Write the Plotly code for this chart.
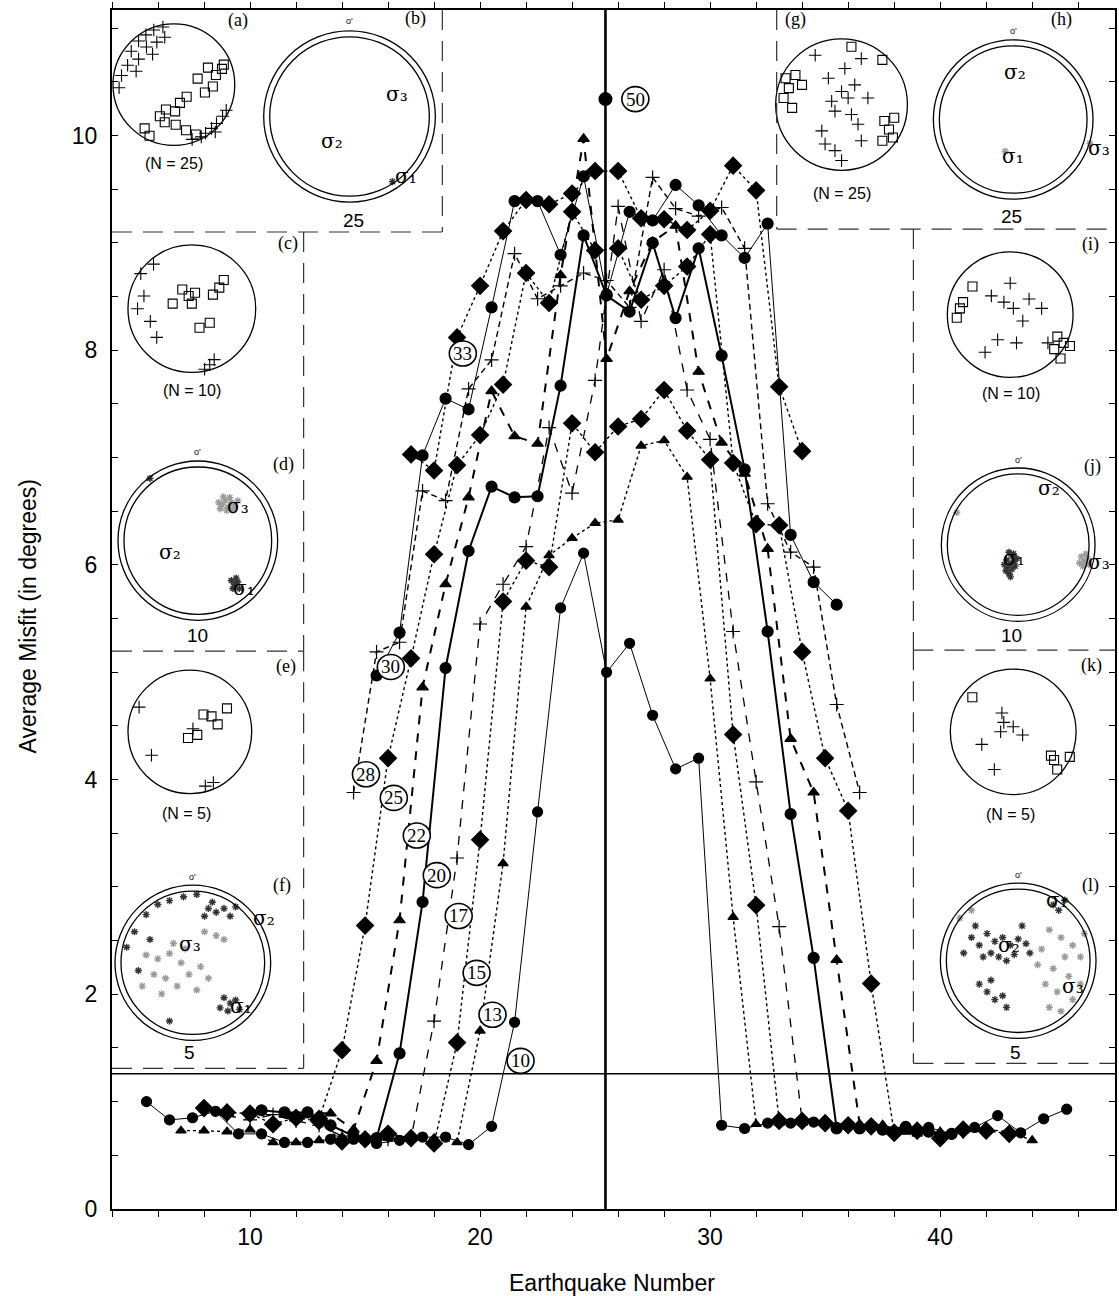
import plotly.graph_objects as go

# ---------------- main chart data (window centres, average misfit) ----------------
x_n10 = [5.5, 6.5, 7.5, 8.5, 9.5, 10.5, 11.5, 12.5, 13.5, 14.5, 15.5, 16.5, 17.5, 18.5, 19.5, 20.5,
         21.5, 22.5, 23.5, 24.5, 25.5, 26.5, 27.5, 28.5, 29.5, 30.5, 31.5, 32.5, 33.5, 34.5, 35.5,
         36.5, 37.5, 38.5, 39.5, 40.5, 41.5, 42.5, 43.5, 44.5, 45.5]
y_n10 = [1.00, 0.83, 0.85, 0.91, 0.70, 0.70, 0.62, 0.62, 0.65, 0.65, 0.61, 0.64, 0.67, 0.67, 0.60, 0.77,
         1.74, 3.70, 5.60, 6.11, 5.00, 5.27, 4.60, 4.10, 4.20, 0.78, 0.75, 0.80, 0.80, 0.81, 0.76,
         0.75, 0.74, 0.77, 0.76, 0.70, 0.76, 0.87, 0.71, 0.84, 0.93]

x_n13 = [7, 8, 9, 10, 11, 12, 13, 14, 15, 16, 17, 18, 19, 20, 21, 22, 23, 24, 25, 26, 27, 28, 29,
         30, 31, 32, 33, 34, 35, 36, 37, 38, 39, 40, 41, 42, 43, 44]
y_n13 = [0.73, 0.73, 0.72, 0.74, 0.62, 0.62, 0.64, 0.63, 0.66, 0.66, 0.65, 0.66, 0.62, 1.66, 3.22,
         5.61, 6.09, 6.25, 6.39, 6.42, 7.11, 7.16, 6.82, 4.94, 2.72, 0.79, 0.80, 0.80, 0.79, 0.79,
         0.78, 0.74, 0.70, 0.72, 0.73, 0.74, 0.72, 0.64]

x_n15 = [8, 9, 10, 11, 12, 13, 14, 15, 16, 17, 18, 19, 20, 21, 22, 23, 24, 25, 26, 27, 28, 29, 30,
         31, 32, 33, 34, 35, 36, 37, 38, 39, 40, 41, 42, 43]
y_n15 = [0.94, 0.90, 0.89, 0.79, 0.85, 0.82, 0.63, 0.65, 0.70, 0.66, 0.61, 1.55, 3.44, 5.66, 6.04,
         5.98, 7.32, 7.05, 7.29, 7.36, 7.63, 7.25, 6.98, 4.42, 2.83, 0.82, 0.82, 0.80, 0.78, 0.77,
         0.71, 0.73, 0.66, 0.74, 0.73, 0.70]

x_n17 = [9, 10, 11, 12, 13, 14, 15, 16, 17, 18, 19, 20, 21, 22, 23, 24, 25, 26, 27, 28, 29, 30, 31,
         32, 33, 34, 35, 36, 37, 38, 39, 40, 41, 42]
y_n17 = [0.87, 0.83, 0.88, 0.82, 0.78, 0.68, 0.66, 0.65, 0.66, 1.75, 3.27, 5.45, 5.82, 6.17, 7.28,
         6.67, 7.72, 9.34, 8.27, 8.75, 7.63, 7.17, 5.38, 3.98, 2.63, 0.82, 0.80, 0.78, 0.76, 0.72,
         0.72, 0.70, 0.72, 0.73]

x_n20 = [10.5, 11.5, 12.5, 13.5, 14.5, 15.5, 16.5, 17.5, 18.5, 19.5, 20.5, 21.5, 22.5, 23.5, 24.5,
         25.5, 26.5, 27.5, 28.5, 29.5, 30.5, 31.5, 32.5, 33.5, 34.5, 35.5, 36.5, 37.5, 38.5, 39.5, 40.5]
y_n20 = [0.92, 0.90, 0.90, 0.78, 0.68, 0.66, 1.45, 2.86, 5.04, 6.13, 6.73, 6.63, 6.64, 7.67, 9.07,
         8.51, 8.36, 9.00, 8.30, 8.95, 7.95, 6.89, 5.38, 3.68, 2.34, 0.75, 0.75, 0.74, 0.76, 0.72, 0.70]

x_n22 = [11.5, 12.5, 13.5, 14.5, 15.5, 16.5, 17.5, 18.5, 19.5, 20.5, 21.5, 22.5, 23.5, 24.5, 25.5,
         26.5, 27.5, 28.5, 29.5, 30.5, 31.5, 32.5, 33.5, 34.5, 35.5, 36.5, 37.5, 38.5, 39.5]
y_n22 = [0.88, 0.90, 0.89, 0.74, 1.38, 2.69, 4.86, 5.82, 6.63, 7.62, 7.20, 7.13, 8.70, 9.97, 7.92,
         8.55, 9.01, 9.16, 7.80, 7.14, 6.85, 6.15, 4.38, 3.88, 2.32, 0.79, 0.78, 0.72, 0.72]

x_n25 = [13, 14, 15, 16, 17, 18, 19, 20, 21, 22, 23, 24, 25, 26, 27, 28, 29, 30, 31, 32, 33, 34, 35,
         36, 37, 38]
y_n25 = [0.84, 1.48, 2.64, 4.20, 5.13, 6.10, 6.93, 7.21, 7.68, 8.72, 8.44, 9.29, 8.93, 8.95, 8.47,
         8.60, 8.78, 9.08, 6.95, 6.38, 6.37, 5.19, 4.20, 3.71, 2.10, 0.71]

x_n28 = [14.5, 15.5, 16.5, 17.5, 18.5, 19.5, 20.5, 21.5, 22.5, 23.5, 24.5, 25.5, 26.5, 27.5, 28.5,
         29.5, 30.5, 31.5, 32.5, 33.5, 34.5, 35.5, 36.5]
y_n28 = [3.88, 5.19, 5.28, 6.69, 6.60, 7.64, 7.91, 8.90, 8.48, 8.60, 8.72, 8.65, 8.40, 9.61, 9.32,
         9.25, 9.33, 8.95, 6.57, 6.12, 5.98, 4.70, 3.88]

x_n30 = [15.5, 16.5, 17.5, 18.5, 19.5, 20.5, 21.5, 22.5, 23.5, 24.5, 25.5, 26.5, 27.5, 28.5, 29.5,
         30.5, 31.5, 32.5, 33.5, 34.5, 35.5]
y_n30 = [4.97, 5.37, 7.02, 7.55, 7.45, 8.40, 9.39, 9.39, 8.89, 9.62, 8.52, 9.29, 9.21, 9.54, 9.35,
         9.07, 8.86, 9.18, 6.28, 5.84, 5.63]

x_n33 = [17, 18, 19, 20, 21, 22, 23, 24, 25, 26, 27, 28, 29, 30, 31, 32, 33, 34]
y_n33 = [7.03, 6.88, 8.12, 8.60, 9.11, 9.40, 9.36, 9.46, 9.67, 9.67, 9.23, 9.22, 9.12, 9.30, 9.72,
         9.49, 7.66, 7.06]

x_n50 = [25.45]
y_n50 = [10.34]

series_names = ["10", "13", "15", "17", "20", "22", "25", "28", "30", "33"]
series_x = [x_n10, x_n13, x_n15, x_n17, x_n20, x_n22, x_n25, x_n28, x_n30, x_n33]
series_y = [y_n10, y_n13, y_n15, y_n17, y_n20, y_n22, y_n25, y_n28, y_n30, y_n33]

# circled window-size labels (text, x, y)
label_text = ["33", "30", "28", "25", "22", "20", "17", "15", "13", "10", "50"]
label_x = [19.25, 16.12, 15.04, 16.25, 17.25, 18.12, 19.07, 19.85, 20.54, 21.76, 26.75]
label_y = [7.97, 5.05, 4.05, 3.83, 3.48, 3.11, 2.73, 2.20, 1.81, 1.38, 10.34]

x_ticks = [10, 20, 30, 40]
y_ticks = [0, 2, 4, 6, 8, 10]
split_x = 25.45
threshold_y = 1.26

# ---------------- stereonet inset data (unit-circle coordinates) ----------------
a_plus = [(-0.70, 0.55), (-0.58, 0.72), (-0.46, 0.82), (-0.33, 0.90), (-0.18, 0.95), (-0.45, 0.62),
          (-0.28, 0.70), (-0.58, 0.42), (-0.76, 0.32), (-0.86, 0.15), (-0.90, -0.05), (-0.62, 0.22),
          (-0.15, 0.78), (-0.35, 0.50), (0.52, -0.80), (0.62, -0.72), (0.70, -0.64), (0.80, -0.52),
          (0.68, -0.78), (0.45, -0.86), (0.86, -0.42), (0.30, -0.90)]
a_sq = [(0.56, 0.28), (0.79, 0.26), (0.69, 0.16), (0.82, 0.33), (0.39, 0.10), (0.64, -0.03),
        (0.51, -0.13), (0.21, -0.20), (0.10, -0.30), (-0.13, -0.41), (0.02, -0.44), (-0.23, -0.52),
        (-0.15, -0.62), (0.03, -0.66), (0.20, -0.75), (0.36, -0.82), (-0.48, -0.72), (-0.40, -0.84)]
c_plus = [(-0.80, 0.55), (-0.60, 0.70), (-0.75, 0.20), (-0.85, 0.00), (-0.65, -0.20), (0.20, -0.95),
          (0.35, -0.80), (0.28, -0.88), (-0.55, -0.45)]
c_sq = [(-0.15, 0.30), (-0.05, 0.20), (0.00, 0.08), (-0.30, 0.08), (0.05, 0.25), (0.28, -0.22),
        (0.33, 0.22), (0.43, 0.33), (0.50, 0.45), (0.12, -0.30)]
e_plus = [(-0.82, 0.40), (-0.62, -0.38), (0.05, 0.05), (0.25, -0.88), (0.38, -0.82)]
e_sq = [(0.35, 0.25), (0.45, 0.12), (0.60, 0.38), (0.12, -0.05), (-0.03, -0.10), (0.22, 0.28)]
g_plus = [(-0.20, 0.40), (0.00, 0.20), (0.10, 0.10), (0.20, 0.30), (-0.10, -0.10), (-0.30, -0.40),
          (0.25, -0.30), (0.30, -0.55), (-0.10, -0.70), (0.00, -0.85), (-0.40, 0.75), (0.30, 0.70),
          (0.05, 0.55), (-0.15, 0.05), (0.15, -0.15), (-0.25, -0.60), (0.40, 0.10)]
g_sq = [(-0.85, 0.40), (-0.80, 0.25), (-0.88, 0.10), (-0.75, -0.05), (-0.70, 0.45), (-0.60, 0.30),
        (0.65, -0.25), (0.72, -0.38), (0.78, -0.50), (0.62, -0.55), (0.80, -0.20), (0.15, 0.88),
        (0.62, 0.68)]
i_plus = [(-0.10, 0.20), (0.05, 0.10), (0.30, 0.25), (0.50, 0.10), (0.20, -0.10), (-0.20, -0.40),
          (0.10, -0.45), (-0.40, -0.60), (0.60, -0.45), (-0.30, 0.30), (0.00, 0.50)]
i_sq = [(-0.80, 0.10), (-0.75, 0.20), (-0.85, -0.05), (-0.60, 0.45), (0.70, -0.55), (0.85, -0.45),
        (0.75, -0.35), (0.80, -0.70), (0.95, -0.50)]
k_plus = [(-0.50, -0.20), (-0.20, 0.00), (-0.15, 0.15), (-0.18, 0.30), (0.00, 0.08), (0.15, -0.05),
          (-0.30, -0.60)]
k_sq = [(-0.65, 0.55), (0.60, -0.38), (0.65, -0.45), (0.70, -0.60), (0.90, -0.40)]

b_dark = [(0.50, -0.76)]
d_dark = [(0.42, -0.50), (0.46, -0.55), (0.50, -0.52), (0.44, -0.60), (0.52, -0.60), (0.48, -0.47),
          (-0.60, 0.78)]
d_gray = [(0.30, 0.45), (0.34, 0.50), (0.38, 0.42), (0.42, 0.48), (0.46, 0.44), (0.36, 0.38),
          (0.28, 0.40), (0.40, 0.54), (0.32, 0.55), (0.44, 0.38), (0.50, 0.50), (0.26, 0.48)]
f_dark = [(-0.60, 0.62), (-0.45, 0.75), (-0.30, 0.80), (-0.12, 0.85), (0.05, 0.88), (0.20, 0.70),
          (0.30, 0.65), (0.40, 0.70), (0.25, 0.78), (0.48, 0.60), (-0.75, 0.40), (-0.85, 0.20),
          (-0.70, -0.10), (0.40, -0.45), (0.48, -0.52), (0.55, -0.48), (0.45, -0.62), (0.60, -0.60),
          (0.35, -0.58), (-0.30, -0.75), (0.15, 0.60), (0.55, 0.72), (-0.55, 0.30)]
f_gray = [(-0.60, 0.10), (-0.45, 0.05), (-0.30, 0.12), (-0.15, 0.00), (-0.50, -0.15), (-0.35, -0.20),
          (-0.20, -0.30), (-0.05, -0.15), (0.10, -0.05), (-0.40, -0.40), (-0.25, 0.25), (-0.65, -0.30),
          (0.05, -0.35), (0.20, -0.20), (-0.10, 0.18), (0.30, 0.35), (0.40, 0.30), (0.15, 0.40)]
h_gray = [(-0.10, -0.40), (0.96, -0.30)]
j_dark = [(-0.12, -0.10), (-0.08, -0.15), (-0.15, -0.20), (-0.10, -0.25), (-0.05, -0.22), (-0.14, -0.30),
          (-0.08, -0.32), (-0.12, -0.38), (-0.04, -0.28), (-0.18, -0.26), (-0.10, -0.42), (-0.16, -0.34),
          (-0.06, -0.12), (-0.02, -0.18)]
j_gray = [(0.82, -0.16), (0.86, -0.22), (0.90, -0.18), (0.84, -0.28), (0.92, -0.26), (0.88, -0.12),
          (0.80, -0.24), (-0.80, 0.42)]
l_dark = [(-0.60, 0.30), (-0.50, 0.20), (-0.40, 0.35), (-0.30, 0.25), (-0.20, 0.30), (-0.10, 0.20),
          (0.00, 0.28), (0.10, 0.22), (-0.45, 0.05), (-0.35, 0.10), (-0.25, 0.05), (-0.15, 0.00),
          (-0.05, 0.08), (0.15, 0.10), (-0.50, -0.30), (-0.40, -0.40), (-0.30, -0.50), (-0.20, -0.45),
          (-0.35, -0.25), (-0.15, -0.60), (0.45, 0.72), (0.52, 0.65), (0.60, 0.78), (-0.55, 0.45),
          (0.05, 0.45), (-0.70, 0.10)]
l_gray = [(0.40, 0.40), (0.55, 0.30), (0.70, 0.20), (0.80, 0.05), (0.60, 0.05), (0.45, -0.10),
          (0.65, -0.20), (0.80, -0.30), (0.50, -0.40), (0.70, -0.50), (0.40, -0.60), (0.30, 0.15),
          (0.85, 0.35), (0.35, -0.30), (0.55, -0.65), (0.25, -0.05), (-0.75, 0.55), (-0.60, 0.65)]

# ---------------- layout of insets (picture pixels) ----------------
PX_L, PX_R, PX_T, PX_B = 112, 1117, 5, 1209.3
insets = {
    "a": dict(c=(174, 80), r=61, double=False),
    "b": dict(c=(350, 112), r=86, double=True),
    "c": dict(c=(192, 305), r=64, double=False),
    "d": dict(c=(198, 538), r=80, double=True),
    "e": dict(c=(190, 730), r=62, double=False),
    "f": dict(c=(193, 962), r=78, double=True),
    "g": dict(c=(843, 100), r=66, double=False),
    "h": dict(c=(1015, 115), r=80, double=True),
    "i": dict(c=(1012, 311), r=63, double=False),
    "j": dict(c=(1020, 542), r=77, double=True),
    "k": dict(c=(1015, 730), r=63, double=False),
    "l": dict(c=(1020, 960), r=78, double=True),
}

fig = go.Figure()

styles = {
    "10": dict(dash="solid", width=1.0, symbol="circle", size=10),
    "13": dict(dash="dot", width=1.4, symbol="triangle-up", size=9),
    "15": dict(dash="dot", width=1.4, symbol="diamond", size=13),
    "17": dict(dash="dash", width=1.3, symbol="cross-thin", size=10),
    "20": dict(dash="solid", width=2.0, symbol="circle", size=11),
    "22": dict(dash="dash", width=2.0, symbol="triangle-up", size=10),
    "25": dict(dash="dot", width=1.4, symbol="diamond", size=13),
    "28": dict(dash="6px,4px", width=1.4, symbol="cross-thin", size=10),
    "30": dict(dash="solid", width=1.0, symbol="circle", size=11),
    "33": dict(dash="dot", width=1.4, symbol="diamond", size=13),
}

for name, xs, ys in zip(series_names, series_x, series_y):
    st = styles[name]
    fig.add_trace(go.Scatter(
        x=xs, y=ys, mode="lines+markers", name=name, showlegend=False,
        line=dict(color="black", width=st["width"], dash=st["dash"]),
        marker=dict(symbol=st["symbol"], size=st["size"], color="black",
                    line=dict(color="black", width=1.2)),
        cliponaxis=False,
    ))

fig.add_trace(go.Scatter(x=x_n50, y=y_n50, mode="markers", showlegend=False,
                         marker=dict(symbol="circle", size=14, color="black")))

# reference lines
fig.add_shape(type="line", xref="x", yref="y", x0=split_x, x1=split_x, y0=0, y1=11.17,
              line=dict(color="black", width=2.6))
fig.add_shape(type="line", xref="x", yref="y", x0=4, x1=47.6, y0=threshold_y, y1=threshold_y,
              line=dict(color="black", width=1.5))

# circled labels
for t, lx, ly in zip(label_text, label_x, label_y):
    fig.add_shape(type="circle", xref="x", yref="y", xsizemode="pixel", ysizemode="pixel",
                  xanchor=lx, yanchor=ly, x0=-13.5, x1=13.5, y0=-12.5, y1=12.5,
                  line=dict(color="black", width=1.6), fillcolor="white", layer="above")
    fig.add_annotation(x=lx, y=ly, xref="x", yref="y", text=t, showarrow=False,
                       font=dict(family="Liberation Serif", size=19, color="black"))


# ---------------- insets on an overlay pixel axis ----------------
def to_px(key, pts):
    cx, cy = insets[key]["c"]
    r = insets[key]["r"]
    return [cx + r * u for u, v in pts], [cy - r * v for u, v in pts]


for key, geo in insets.items():
    cx, cy = geo["c"]
    r = geo["r"]
    fig.add_shape(type="circle", xref="x2", yref="y2", x0=cx - r, x1=cx + r, y0=cy - r, y1=cy + r,
                  line=dict(color="black", width=1.3))
    if geo["double"]:
        ri = r - 6
        fig.add_shape(type="circle", xref="x2", yref="y2", x0=cx - ri, x1=cx + ri, y0=cy - ri,
                      y1=cy + ri, line=dict(color="black", width=1.3))

plus_sets = [("a", a_plus), ("c", c_plus), ("e", e_plus), ("g", g_plus), ("i", i_plus), ("k", k_plus)]
sq_sets = [("a", a_sq), ("c", c_sq), ("e", e_sq), ("g", g_sq), ("i", i_sq), ("k", k_sq)]
for key, pts in plus_sets:
    xs, ys = to_px(key, pts)
    fig.add_trace(go.Scatter(x=xs, y=ys, xaxis="x2", yaxis="y2", mode="markers", showlegend=False,
                             cliponaxis=False,
                             marker=dict(symbol="cross-thin", size=9, line=dict(color="black", width=1.1))))
for key, pts in sq_sets:
    xs, ys = to_px(key, pts)
    fig.add_trace(go.Scatter(x=xs, y=ys, xaxis="x2", yaxis="y2", mode="markers", showlegend=False,
                             cliponaxis=False,
                             marker=dict(symbol="square-open", size=9, color="black",
                                         line=dict(color="black", width=1.1))))

dark_sets = [("b", b_dark), ("d", d_dark), ("f", f_dark), ("j", j_dark), ("l", l_dark)]
gray_sets = [("d", d_gray), ("f", f_gray), ("h", h_gray), ("j", j_gray), ("l", l_gray)]
for key, pts in gray_sets:
    xs, ys = to_px(key, pts)
    fig.add_trace(go.Scatter(x=xs, y=ys, xaxis="x2", yaxis="y2", mode="markers", showlegend=False,
                             cliponaxis=False,
                             marker=dict(symbol="asterisk", size=6, line=dict(color="#9a9a9a", width=1.4))))
for key, pts in dark_sets:
    xs, ys = to_px(key, pts)
    fig.add_trace(go.Scatter(x=xs, y=ys, xaxis="x2", yaxis="y2", mode="markers", showlegend=False,
                             cliponaxis=False,
                             marker=dict(symbol="asterisk", size=6, line=dict(color="#333333", width=1.4))))

# inset texts: (label, key, u, v, font family, size)
inset_texts = [
    ("(a)", "a", 1.05, 1.06, "Liberation Serif", 18), ("(N = 25)", "a", 0.0, -1.30, "Liberation Sans", 16),
    ("(b)", "b", 0.77, 1.14, "Liberation Serif", 18), ("25", "b", 0.05, -1.22, "Liberation Sans", 19),
    ("(c)", "c", 1.50, 1.02, "Liberation Serif", 18), ("(N = 10)", "c", 0.0, -1.28, "Liberation Sans", 16),
    ("(d)", "d", 1.07, 0.95, "Liberation Serif", 18), ("10", "d", 0.0, -1.19, "Liberation Sans", 19),
    ("(e)", "e", 1.56, 1.06, "Liberation Serif", 18), ("(N = 5)", "e", -0.05, -1.32, "Liberation Sans", 16),
    ("(f)", "f", 1.15, 1.00, "Liberation Serif", 18), ("5", "f", -0.04, -1.15, "Liberation Sans", 19),
    ("(g)", "g", -0.70, 1.30, "Liberation Serif", 18), ("(N = 25)", "g", 0.0, -1.35, "Liberation Sans", 16),
    ("(h)", "h", 0.61, 1.26, "Liberation Serif", 18), ("25", "h", -0.02, -1.22, "Liberation Sans", 19),
    ("(i)", "i", 1.27, 1.12, "Liberation Serif", 18), ("(N = 10)", "i", 0.02, -1.25, "Liberation Sans", 16),
    ("(j)", "j", 0.97, 1.02, "Liberation Serif", 18), ("10", "j", -0.09, -1.18, "Liberation Sans", 19),
    ("(k)", "k", 1.24, 1.05, "Liberation Serif", 18), ("(N = 5)", "k", -0.05, -1.32, "Liberation Sans", 16),
    ("(l)", "l", 0.93, 0.97, "Liberation Serif", 18), ("5", "l", -0.04, -1.18, "Liberation Sans", 19),
]
for t, key, u, v, fam, sz in inset_texts:
    xs, ys = to_px(key, [(u, v)])
    fig.add_annotation(x=xs[0], y=ys[0], xref="x2", yref="y2", text=t, showarrow=False,
                       font=dict(family=fam, size=sz, color="black"))

zero_marks = ["b", "d", "f", "h", "j", "l"]
for key in zero_marks:
    xs, ys = to_px(key, [(0.0, 1.11)])
    fig.add_annotation(x=xs[0], y=ys[0], xref="x2", yref="y2", text="o'", showarrow=False,
                       font=dict(family="Liberation Sans", size=9, color="black"))

subscript = {"1": "₁", "2": "₂", "3": "₃"}
sigma_texts = [
    ("b", "3", 0.55, 0.26), ("b", "2", -0.20, -0.29), ("b", "1", 0.66, -0.70),
    ("d", "3", 0.50, 0.44), ("d", "2", -0.35, -0.14), ("d", "1", 0.58, -0.59),
    ("f", "2", 0.92, 0.58), ("f", "3", -0.04, 0.24), ("f", "1", 0.62, -0.55),
    ("h", "2", 0.02, 0.60), ("h", "1", 0.00, -0.46), ("h", "3", 1.07, -0.36),
    ("j", "2", 0.40, 0.74), ("j", "1", -0.06, -0.18), ("j", "3", 1.05, -0.23),
    ("l", "1", 0.50, 0.78), ("l", "2", -0.12, 0.20), ("l", "3", 0.70, -0.32),
]
for key, sub, u, v in sigma_texts:
    xs, ys = to_px(key, [(u, v)])
    fig.add_annotation(x=xs[0], y=ys[0], xref="x2", yref="y2", text="σ" + subscript[sub],
                       showarrow=False, font=dict(family="DejaVu Serif", size=20, color="black"))

# dashed inset boxes (picture pixels)
box_lines = [
    (443, 5, 443, 228), (112, 228, 443, 228),
    (304, 228, 304, 649), (112, 649, 304, 649),
    (304, 649, 304, 1068), (112, 1068, 304, 1068),
    (778, 5, 778, 225), (778, 225, 1117, 225),
    (915, 225, 915, 648), (915, 648, 1117, 648),
    (915, 648, 915, 1063), (915, 1063, 1117, 1063),
]
for x0, y0, x1, y1 in box_lines:
    fig.add_shape(type="line", xref="x2", yref="y2", x0=x0, y0=y0, x1=x1, y1=y1,
                  line=dict(color="#333333", width=1.2, dash="20px,11px"))

fig.update_layout(
    width=1119, height=1296,
    margin=dict(l=PX_L, r=1119 - PX_R, t=PX_T, b=1296 - PX_B),
    plot_bgcolor="white", paper_bgcolor="white",
    font=dict(family="Liberation Sans", color="black"),
    xaxis=dict(range=[4, 47.6], tickvals=x_ticks, ticks="outside", ticklen=6, tickwidth=1.3,
               tickcolor="black", showgrid=False, zeroline=False, showline=True, linecolor="black",
               linewidth=2, mirror="allticks", tickfont=dict(size=23),
               minor=dict(dtick=2, tick0=0, ticks="outside", ticklen=6, tickcolor="black", tickwidth=1.3)),
    yaxis=dict(range=[0, 11.17], tickvals=y_ticks, ticks="inside", ticklen=6, tickwidth=1.3,
               tickcolor="black", showgrid=False, zeroline=False, showline=True, linecolor="black",
               linewidth=2, mirror="allticks", tickfont=dict(size=23), ticklabelstandoff=8,
               minor=dict(dtick=0.5, tick0=0, ticks="inside", ticklen=6, tickcolor="black", tickwidth=1.3)),
    xaxis2=dict(range=[PX_L, PX_R], overlaying="x", visible=False, anchor="y2"),
    yaxis2=dict(range=[PX_B, PX_T], overlaying="y", visible=False, anchor="x2"),
)

fig.add_annotation(text="Earthquake Number", xref="paper", yref="paper", x=0.4985, y=-0.062,
                   showarrow=False, font=dict(size=23), yanchor="middle")
fig.add_annotation(text="Average Misfit (in degrees)", xref="paper", yref="paper", x=-0.084,
                   y=0.494, textangle=-90, showarrow=False, font=dict(size=23), xanchor="center")

fig.write_html("out.html")
